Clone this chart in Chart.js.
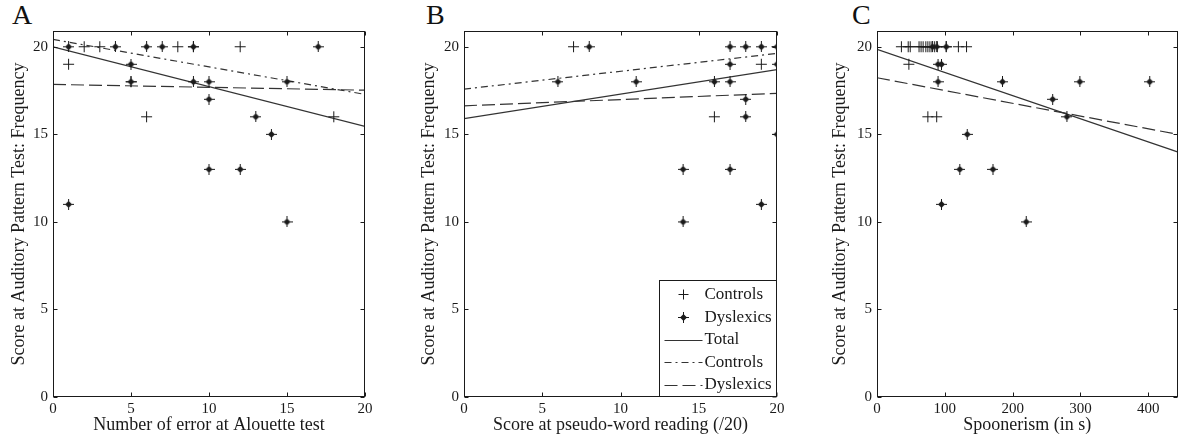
<!DOCTYPE html>
<html>
<head>
<meta charset="utf-8">
<script src="https://cdn.jsdelivr.net/npm/chart.js@4.4.1/dist/chart.umd.min.js"></script>
<style>
  body { margin: 0; background: #fff; width: 1184px; height: 441px; overflow: hidden; position: relative; }
  .panel { position: absolute; top: 0; height: 441px; }
  .letter { position: absolute; top: -1px; font-family: "Liberation Serif", serif; font-size: 28px; color: #111; }
</style>
</head>
<body>
<div class="letter" style="left:12px">A</div>
<div class="letter" style="left:426px">B</div>
<div class="letter" style="left:852px">C</div>
<div class="panel" style="left:0;width:380px"><canvas id="chartA" width="380" height="441"></canvas></div>
<div class="panel" style="left:400px;width:390px"><canvas id="chartB" width="390" height="441"></canvas></div>
<div class="panel" style="left:800px;width:384px"><canvas id="chartC" width="384" height="441"></canvas></div>
<script>
// ---- data ----
const yTitle = "Score at Auditory Pattern Test: Frequency";
const groupLabels = ["Controls", "Dyslexics"];
const lineLabels = ["Total", "Controls", "Dyslexics"];

// Panel A: Number of error at Alouette test
const aControlsX = [1, 2, 3, 6, 8, 12, 18, 5, 9];
const aControlsY = [19, 20, 20, 16, 20, 20, 16, 18, 20];
const aDyslexicsX = [1, 1, 4, 5, 5, 6, 7, 9, 9, 10, 10, 10, 12, 13, 14, 15, 15, 17];
const aDyslexicsY = [20, 11, 20, 19, 18, 20, 20, 20, 18, 18, 17, 13, 13, 16, 15, 18, 10, 20];
const aTotalFit = [[0, 20.0], [20, 15.45]];
const aControlsFit = [[0, 20.42], [20, 17.28]];
const aDyslexicsFit = [[0, 17.85], [20, 17.52]];

// Panel B: Score at pseudo-word reading (/20)
const bControlsX = [7, 16, 19, 20];
const bControlsY = [20, 16, 19, 20];
const bDyslexicsX = [6, 8, 11, 14, 14, 16, 17, 17, 17, 17, 18, 18, 18, 19, 19, 20, 20, 20];
const bDyslexicsY = [18, 20, 18, 13, 10, 18, 20, 19, 18, 13, 20, 17, 16, 20, 11, 19, 15, 20];
const bTotalFit = [[0, 15.9], [20, 18.7]];
const bControlsFit = [[0, 17.58], [20, 19.62]];
const bDyslexicsFit = [[0, 16.63], [20, 17.34]];

// Panel C: Spoonerism (in s)
const cControlsX = [36, 46, 49, 62, 65, 68, 72, 75, 78, 81, 85, 89, 102, 120, 132, 47, 75, 88];
const cControlsY = [20, 20, 20, 20, 20, 20, 20, 20, 20, 20, 20, 20, 20, 20, 20, 19, 16, 16];
const cDyslexicsX = [82, 88, 102, 90, 95, 90, 95, 133, 122, 171, 185, 220, 259, 280, 299, 402];
const cDyslexicsY = [20, 20, 20, 19, 19, 18, 11, 15, 13, 13, 18, 10, 17, 16, 18, 18];
const cTotalFit = [[0, 19.85], [443, 14.0]];
const cDyslexicsFit = [[0, 18.23], [443, 15.0]];

const INK = "#1a1a1a";
const SERIF = "'Liberation Serif', 'DejaVu Serif', serif";

function toPoints(xs, ys) {
  return xs.map((x, i) => ({ x: x, y: ys[i] }));
}
function fitPoints(pairs) {
  return pairs.map((p) => ({ x: p[0], y: p[1] }));
}

function starMarker() {
  const c = document.createElement("canvas");
  c.width = 11;
  c.height = 11;
  const g = c.getContext("2d");
  g.strokeStyle = INK;
  g.lineWidth = 1;
  g.beginPath();
  g.moveTo(5.5, 0); g.lineTo(5.5, 11);
  g.moveTo(0, 5.5); g.lineTo(11, 5.5);
  g.stroke();
  g.fillStyle = INK;
  g.beginPath();
  g.moveTo(5.5, 2); g.lineTo(9, 5.5); g.lineTo(5.5, 9); g.lineTo(2, 5.5);
  g.closePath();
  g.fill();
  return c;
}
const STAR = starMarker();

function scatterSet(label, pts, style) {
  return {
    label: label,
    data: pts,
    pointStyle: style,
    pointRadius: 5.5,
    borderColor: INK,
    borderWidth: 1,
    backgroundColor: INK,
    showLine: false,
  };
}
function lineSet(label, pts, dash) {
  return {
    label: label,
    data: pts,
    showLine: true,
    pointRadius: 0,
    borderColor: "#333",
    borderWidth: 1.2,
    borderDash: dash,
    fill: false,
  };
}

// frame + inward ticks on all four sides
const framePlugin = {
  id: "frame",
  afterDatasetsDraw(chart) {
    const { ctx, chartArea: a, scales } = chart;
    const L = Math.round(a.left) + 0.5, R = Math.round(a.right) - 0.5;
    const T = Math.round(a.top) + 0.5, B = Math.round(a.bottom) - 0.5;
    ctx.save();
    ctx.strokeStyle = INK;
    ctx.lineWidth = 1;
    ctx.strokeRect(L, T, R - L, B - T);
    ctx.beginPath();
    scales.x.ticks.forEach((t) => {
      const px = Math.round(scales.x.getPixelForValue(t.value)) + 0.5;
      ctx.moveTo(px, B); ctx.lineTo(px, B - 4);
      ctx.moveTo(px, T); ctx.lineTo(px, T + 4);
    });
    scales.y.ticks.forEach((t) => {
      const py = Math.round(scales.y.getPixelForValue(t.value)) + 0.5;
      ctx.moveTo(L, py); ctx.lineTo(L + 4, py);
      ctx.moveTo(R, py); ctx.lineTo(R - 4, py);
    });
    ctx.stroke();
    ctx.restore();
  },
};

// boxed legend in the lower right corner (only on panel B)
const boxLegend = {
  id: "boxLegend",
  afterDraw(chart, args, opts) {
    if (!opts.show) return;
    const { ctx, chartArea: a } = chart;
    const w = 118, h = 117;
    const left = Math.round(a.right - w) + 0.5, top = Math.round(a.bottom - h) + 0.5;
    ctx.save();
    ctx.fillStyle = "#fff";
    ctx.fillRect(left, top, w, h);
    ctx.strokeStyle = INK;
    ctx.lineWidth = 1;
    ctx.strokeRect(left, top, w - 1, h - 1);
    ctx.font = "17px " + SERIF;
    ctx.textBaseline = "middle";
    ctx.fillStyle = INK;
    chart.data.datasets.forEach((ds, i) => {
      const cy = top + 14 + i * 22.6;
      if (ds.showLine) {
        ctx.save();
        ctx.strokeStyle = ds.borderColor;
        ctx.lineWidth = ds.borderWidth;
        ctx.setLineDash(ds.borderDash || []);
        ctx.beginPath();
        ctx.moveTo(left + 5, Math.round(cy) + 0.5);
        ctx.lineTo(left + 43, Math.round(cy) + 0.5);
        ctx.stroke();
        ctx.restore();
      } else {
        const mx = left + 24;
        if (ds.pointStyle === "cross") {
          ctx.beginPath();
          ctx.moveTo(mx, cy - 5); ctx.lineTo(mx, cy + 5);
          ctx.moveTo(mx - 5, cy); ctx.lineTo(mx + 5, cy);
          ctx.stroke();
        } else {
          ctx.drawImage(ds.pointStyle, Math.round(mx - 5.5), Math.round(cy - 5.5));
        }
      }
      ctx.fillText(ds.label, left + 45, cy);
    });
    ctx.restore();
  },
};

function makeChart(id, cfg) {
  const ctx = document.getElementById(id).getContext("2d");
  return new Chart(ctx, {
    type: "scatter",
    data: { datasets: cfg.datasets },
    options: {
      responsive: false,
      animation: false,
      layout: { padding: { left: 0, right: cfg.padRight, top: 31, bottom: 0 } },
      plugins: {
        legend: { display: false },
        tooltip: { enabled: false },
        boxLegend: { show: !!cfg.legend },
      },
      scales: {
        x: {
          type: "linear",
          min: 0,
          max: cfg.xMax,
          grid: { display: false, drawTicks: false },
          border: { display: false },
          ticks: {
            stepSize: cfg.xStep,
            includeBounds: false,
            padding: 3,
            color: INK,
            font: { family: SERIF, size: 15 },
          },
          title: {
            display: true,
            text: cfg.xTitle,
            color: INK,
            font: { family: SERIF, size: 18 },
            padding: { top: 0, bottom: 5 },
          },
          afterFit: (scale) => { scale.height = 44; },
        },
        y: {
          type: "linear",
          min: 0,
          max: 20.9,
          grid: { display: false, drawTicks: false },
          border: { display: false },
          ticks: {
            stepSize: 5,
            includeBounds: false,
            padding: 5,
            color: INK,
            font: { family: SERIF, size: 15 },
          },
          title: {
            display: true,
            text: yTitle,
            color: INK,
            font: { family: SERIF, size: 18 },
            padding: { top: cfg.yTitlePad, bottom: 0 },
          },
          afterFit: (scale) => { scale.width = cfg.yWidth; },
        },
      },
    },
    plugins: [framePlugin, boxLegend],
  });
}

makeChart("chartA", {
  xTitle: "Number of error at Alouette test",
  xMax: 20, xStep: 5, yWidth: 53, padRight: 15, yTitlePad: 8,
  datasets: [
    scatterSet(groupLabels[0], toPoints(aControlsX, aControlsY), "cross"),
    scatterSet(groupLabels[1], toPoints(aDyslexicsX, aDyslexicsY), STAR),
    lineSet(lineLabels[0], fitPoints(aTotalFit), []),
    lineSet(lineLabels[1], fitPoints(aControlsFit), [7, 4, 2, 4]),
    lineSet(lineLabels[2], fitPoints(aDyslexicsFit), [13, 5]),
  ],
});

makeChart("chartB", {
  xTitle: "Score at pseudo-word reading (/20)",
  xMax: 20, xStep: 5, yWidth: 64, padRight: 13, yTitlePad: 18, legend: true,
  datasets: [
    scatterSet(groupLabels[0], toPoints(bControlsX, bControlsY), "cross"),
    scatterSet(groupLabels[1], toPoints(bDyslexicsX, bDyslexicsY), STAR),
    lineSet(lineLabels[0], fitPoints(bTotalFit), []),
    lineSet(lineLabels[1], fitPoints(bControlsFit), [7, 4, 2, 4]),
    lineSet(lineLabels[2], fitPoints(bDyslexicsFit), [13, 5]),
  ],
});

makeChart("chartC", {
  xTitle: "Spoonerism (in s)",
  xMax: 443, xStep: 100, yWidth: 77, padRight: 0, yTitlePad: 29,
  datasets: [
    scatterSet(groupLabels[0], toPoints(cControlsX, cControlsY), "cross"),
    scatterSet(groupLabels[1], toPoints(cDyslexicsX, cDyslexicsY), STAR),
    lineSet(lineLabels[0], fitPoints(cTotalFit), []),
    lineSet(lineLabels[2], fitPoints(cDyslexicsFit), [13, 5]),
  ],
});
</script>
</body>
</html>
